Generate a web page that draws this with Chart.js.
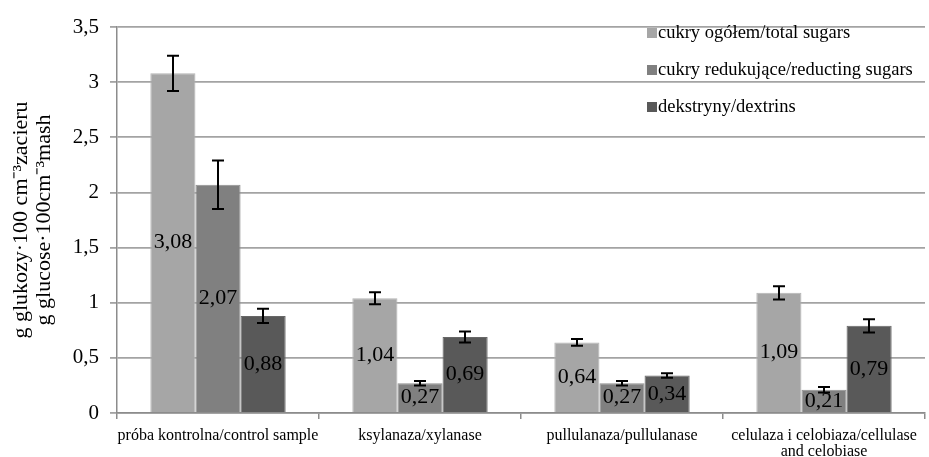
<!DOCTYPE html>
<html>
<head>
<meta charset="utf-8">
<script src="https://cdn.jsdelivr.net/npm/chart.js@4.4.1/dist/chart.umd.min.js"></script>
<style>
  html, body { margin: 0; padding: 0; background: #fff; overflow: hidden; }
  #wrap { width: 929px; height: 457px; position: relative; }
</style>
</head>
<body>
<div id="wrap"><canvas id="c"></canvas></div>
<script>
// Categories (enzyme treatments)
const categories = [
  'próba kontrolna/control sample',
  'ksylanaza/xylanase',
  'pullulanaza/pullulanase',
  ['celulaza i celobiaza/cellulase', 'and celobiase']
];

// Series names
const seriesNames = [
  'cukry ogółem/total sugars',
  'cukry redukujące/reducting sugars',
  'dekstryny/dextrins'
];

// Mean values, g glucose per 100 cm3 mash
const totalSugars    = [3.08, 1.04, 0.64, 1.09];
const reducingSugars = [2.07, 0.27, 0.27, 0.21];
const dextrins       = [0.88, 0.69, 0.34, 0.79];

// Standard deviations (± error)
const totalSugarsErr    = [0.16, 0.055, 0.03, 0.06];
const reducingSugarsErr = [0.22, 0.02, 0.02, 0.025];
const dextrinsErr       = [0.065, 0.05, 0.02, 0.06];

// Y axis ticks
const yTicks = [0, 0.5, 1, 1.5, 2, 2.5, 3, 3.5];

const seriesColors = ['#a6a6a6', '#808080', '#595959'];
const seriesEdges  = ['#b4b4b4', '#8e8e8e', '#676767'];
const seriesValues = [totalSugars, reducingSugars, dextrins];
const seriesErrors = [totalSugarsErr, reducingSugarsErr, dextrinsErr];

const serif = "'Liberation Serif', 'Times New Roman', serif";
const fmt = v => String(v).replace('.', ',');

// Error bars with caps
const errorBarPlugin = {
  id: 'errorBars',
  afterDatasetsDraw(chart) {
    const { ctx, scales: { y } } = chart;
    ctx.save();
    ctx.strokeStyle = '#000';
    ctx.lineWidth = 2;
    chart.data.datasets.forEach((ds, i) => {
      const meta = chart.getDatasetMeta(i);
      meta.data.forEach((bar, j) => {
        const v = ds.data[j], e = ds.errors[j];
        const x = Math.round(bar.x);
        const yT = y.getPixelForValue(v + e);
        const yB = y.getPixelForValue(v - e);
        ctx.beginPath();
        ctx.moveTo(x, yT); ctx.lineTo(x, yB);
        ctx.moveTo(x - 6, yT); ctx.lineTo(x + 6, yT);
        ctx.moveTo(x - 6, yB); ctx.lineTo(x + 6, yB);
        ctx.stroke();
      });
    });
    ctx.restore();
  }
};

// Value labels centred in each bar
const valueLabelPlugin = {
  id: 'valueLabels',
  afterDraw(chart) {
    const { ctx } = chart;
    ctx.save();
    ctx.font = `22px ${serif}`;
    ctx.fillStyle = '#000';
    ctx.textAlign = 'center';
    ctx.textBaseline = 'middle';
    chart.data.datasets.forEach((ds, i) => {
      const meta = chart.getDatasetMeta(i);
      meta.data.forEach((bar, j) => {
        const yc = (bar.y + bar.base) / 2;
        ctx.fillText(fmt(ds.data[j]), bar.x, yc);
      });
    });
    ctx.restore();
  }
};

// Legend drawn over the upper right of the plot
const legendPlugin = {
  id: 'sideLegend',
  afterDraw(chart) {
    const { ctx } = chart;
    ctx.save();
    ctx.font = `18.5px ${serif}`;
    ctx.textBaseline = 'middle';
    chart.data.datasets.forEach((ds, i) => {
      const yy = 33 + i * 37;
      ctx.fillStyle = ds.backgroundColor;
      ctx.fillRect(647, yy - 5, 10, 10);
      ctx.fillStyle = '#000';
      ctx.fillText(ds.label, 658, yy);
    });
    ctx.restore();
  }
};

new Chart(document.getElementById('c'), {
  type: 'bar',
  data: {
    labels: categories,
    datasets: seriesValues.map((vals, i) => ({
      label: seriesNames[i],
      data: vals,
      errors: seriesErrors[i],
      backgroundColor: seriesColors[i],
      borderColor: seriesEdges[i],
      borderWidth: 1,
      barPercentage: 1,
      categoryPercentage: 0.67
    }))
  },
  options: {
    responsive: true,
    maintainAspectRatio: false,
    animation: false,
    layout: { padding: { top: 27, right: 4, left: 0, bottom: 0 } },
    plugins: { legend: { display: false }, tooltip: { enabled: false } },
    scales: {
      x: {
        grid: { offset: true, drawOnChartArea: false, color: '#8c8c8c', lineWidth: 1.5, tickLength: 6 },
        border: { color: '#8c8c8c', width: 1.5 },
        ticks: { color: '#000', font: { family: serif, size: 16, lineHeight: 1.05 }, maxRotation: 0, autoSkip: false, padding: 8 },
        afterFit(s) { s.height = 44; }
      },
      y: {
        min: 0, max: 3.5,
        afterBuildTicks(s) { s.ticks = yTicks.map(v => ({ value: v })); },
        grid: { color: '#a3a3a3', lineWidth: 1.8, tickLength: 7 },
        border: { color: '#8c8c8c', width: 1.5 },
        ticks: { color: '#000', font: { family: serif, size: 21 }, padding: 11, callback: v => fmt(v) },
        title: {
          display: true,
          text: ['g glukozy·100 cm⁻³zacieru', 'g glucose·100cm⁻³mash'],
          color: '#000',
          font: { family: serif, size: 22, lineHeight: 1.05 },
          padding: { top: 10, bottom: 0 }
        },
        afterFit(s) { s.width = 117; }
      }
    }
  },
  plugins: [errorBarPlugin, valueLabelPlugin, legendPlugin]
});
</script>
</body>
</html>
